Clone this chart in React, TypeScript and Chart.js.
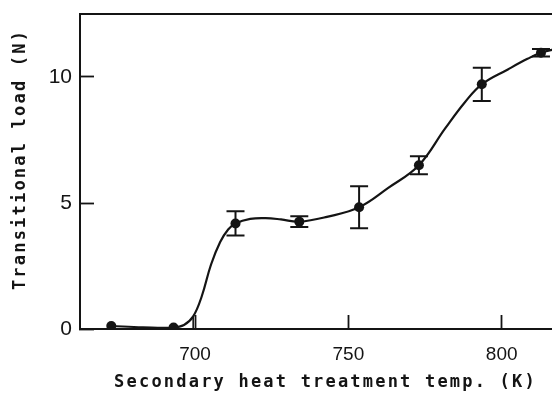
import React, { useEffect, useRef } from "react";
import { Chart, registerables } from "chart.js";

Chart.register(...registerables);

// Measured samples: secondary heat treatment temperature (K) vs transitional load (N)
const temps = [672.7, 693, 713.2, 734, 753.5, 773, 793.5, 812.8];
const loads = [0.12, 0.06, 4.19, 4.26, 4.83, 6.5, 9.71, 10.96];
const loadErr = [0, 0, 0.48, 0.21, 0.83, 0.36, 0.66, 0.15];

// Hand-drawn fitting curve through the samples
const curveTemps = [
  672.7, 683, 693, 696.4, 699.4, 702.2, 705.2, 708.2, 710.8, 713.2,
  718, 723, 728, 734, 743, 753.5, 763, 773, 781.5, 788, 793.5,
  802, 808.4, 812.8, 819,
];
const curveLoads = [
  0.12, 0.07, 0.06, 0.16, 0.5, 1.3, 2.55, 3.45, 3.95, 4.19,
  4.37, 4.4, 4.35, 4.26, 4.45, 4.83, 5.6, 6.5, 7.95, 9.0, 9.71,
  10.3, 10.72, 10.96, 11.15,
];

// Small construction stroke dropped from the curve to the axis
const markTemps = [699.4, 699.4];
const markLoads = [0, 0.5];

const xRange = [662.5, 819];
const yRange = [0, 12.5];
const xStep = 50;
const yStep = 5;

const xTitle = "Secondary heat treatment temp. (K)";
const yTitle = "Transitional load (N)";

const INK = "#141414";
const MONO = '"DejaVu Sans Mono", "Liberation Mono", monospace';

const errorBars = {
  id: "errorBars",
  afterDatasetsDraw(chart: any) {
    const { ctx } = chart;
    const xs = chart.scales.x;
    const ys = chart.scales.y;
    ctx.save();
    ctx.strokeStyle = INK;
    ctx.lineWidth = 2;
    temps.forEach((t, i) => {
      const e = loadErr[i];
      if (!e) return;
      const px = xs.getPixelForValue(t);
      const top = ys.getPixelForValue(loads[i] + e);
      const bot = ys.getPixelForValue(loads[i] - e);
      const cap = 9;
      ctx.beginPath();
      ctx.moveTo(px, top);
      ctx.lineTo(px, bot);
      ctx.moveTo(px - cap, top);
      ctx.lineTo(px + cap, top);
      ctx.moveTo(px - cap, bot);
      ctx.lineTo(px + cap, bot);
      ctx.stroke();
    });
    ctx.restore();
  },
};

const frame = {
  id: "frame",
  beforeDraw(chart: any) {
    // spaced typewriter look for the axis titles
    const shifts: Record<string, [number, number]> = { x: [5.5, 0], y: [0, -12] };
    Object.keys(shifts).forEach((id) => {
      const s = chart.scales[id];
      if (!s || s.__spaced) return;
      const orig = s.drawTitle;
      s.drawTitle = function () {
        const c = this.ctx;
        c.save();
        c.letterSpacing = "2.2px";
        c.translate(shifts[id][0], shifts[id][1]);
        orig.call(this);
        c.restore();
      };
      s.__spaced = true;
    });
  },
  afterDraw(chart: any) {
    const { ctx, chartArea } = chart;
    ctx.save();
    ctx.strokeStyle = INK;
    ctx.lineWidth = 2;
    ctx.beginPath();
    ctx.moveTo(chartArea.left - 1, chartArea.top);
    ctx.lineTo(chart.width, chartArea.top);
    ctx.stroke();
    ctx.restore();
  },
};

export default function App() {
  const ref = useRef<HTMLCanvasElement | null>(null);

  useEffect(() => {
    if (!ref.current) return;
    const chart = new Chart(ref.current, {
      type: "scatter",
      data: {
        datasets: [
          {
            data: curveTemps.map((x, i) => ({ x, y: curveLoads[i] })),
            showLine: true,
            borderColor: INK,
            borderWidth: 2.2,
            pointRadius: 0,
            tension: 0.4,
          },
          {
            data: markTemps.map((x, i) => ({ x, y: markLoads[i] })),
            showLine: true,
            borderColor: INK,
            borderWidth: 1.6,
            pointRadius: 0,
          },
          {
            data: temps.map((x, i) => ({ x, y: loads[i] })),
            pointRadius: 5,
            pointBackgroundColor: INK,
            pointBorderWidth: 0,
            showLine: false,
          },
        ],
      },
      options: {
        responsive: false,
        animation: false,
        devicePixelRatio: 1,
        layout: { padding: { top: 14, left: 0, right: 0, bottom: 0 } },
        plugins: {
          legend: { display: false },
          tooltip: { enabled: false },
        },
        scales: {
          x: {
            type: "linear",
            min: xRange[0],
            max: xRange[1],
            border: { display: true, color: INK, width: 2 },
            grid: {
              drawOnChartArea: false,
              drawTicks: true,
              tickLength: -14,
              tickColor: INK,
              tickWidth: 1.8,
            },
            ticks: {
              stepSize: xStep,
              includeBounds: false,
              padding: 28.6,
              color: INK,
              font: { family: '"Liberation Sans", Arial, sans-serif', size: 19 },
              callback: (v: any) => String(v),
            },
            title: {
              display: true,
              text: xTitle,
              color: INK,
              font: { family: MONO, size: 17, weight: "bold", lineHeight: 1.2 },
              padding: { top: 0, bottom: 2.8 },
            },
            afterFit(s: any) {
              s.height = 67;
              s.paddingLeft = 0;
              s.paddingRight = 0;
              s.paddingTop = 0;
              s.paddingBottom = 0;
            },
          },
          y: {
            type: "linear",
            min: yRange[0],
            max: yRange[1],
            border: { display: true, color: INK, width: 2 },
            grid: {
              drawOnChartArea: false,
              drawTicks: true,
              tickLength: -14,
              tickColor: INK,
              tickWidth: 1.8,
            },
            ticks: {
              stepSize: yStep,
              includeBounds: false,
              padding: 22,
              color: INK,
              font: { family: '"Liberation Sans", Arial, sans-serif', size: 21 },
              callback: (v: any) => String(v),
            },
            title: {
              display: true,
              text: yTitle,
              color: INK,
              font: { family: MONO, size: 17, weight: "bold", lineHeight: 1.2 },
              padding: { top: 10, bottom: 0 },
            },
            afterFit(s: any) {
              s.width = 80;
              s.paddingLeft = 0;
              s.paddingRight = 0;
              s.paddingTop = 0;
              s.paddingBottom = 0;
            },
          },
        },
      },
      plugins: [errorBars, frame],
    } as any);
    return () => chart.destroy();
  }, []);

  return (
    <div
      style={{
        position: "absolute",
        left: 0,
        top: 0,
        width: 552,
        height: 396,
        overflow: "hidden",
        background: "#ffffff",
      }}
    >
      <canvas ref={ref} width={565} height={396} style={{ display: "block", width: 565, height: 396 }} />
    </div>
  );
}
